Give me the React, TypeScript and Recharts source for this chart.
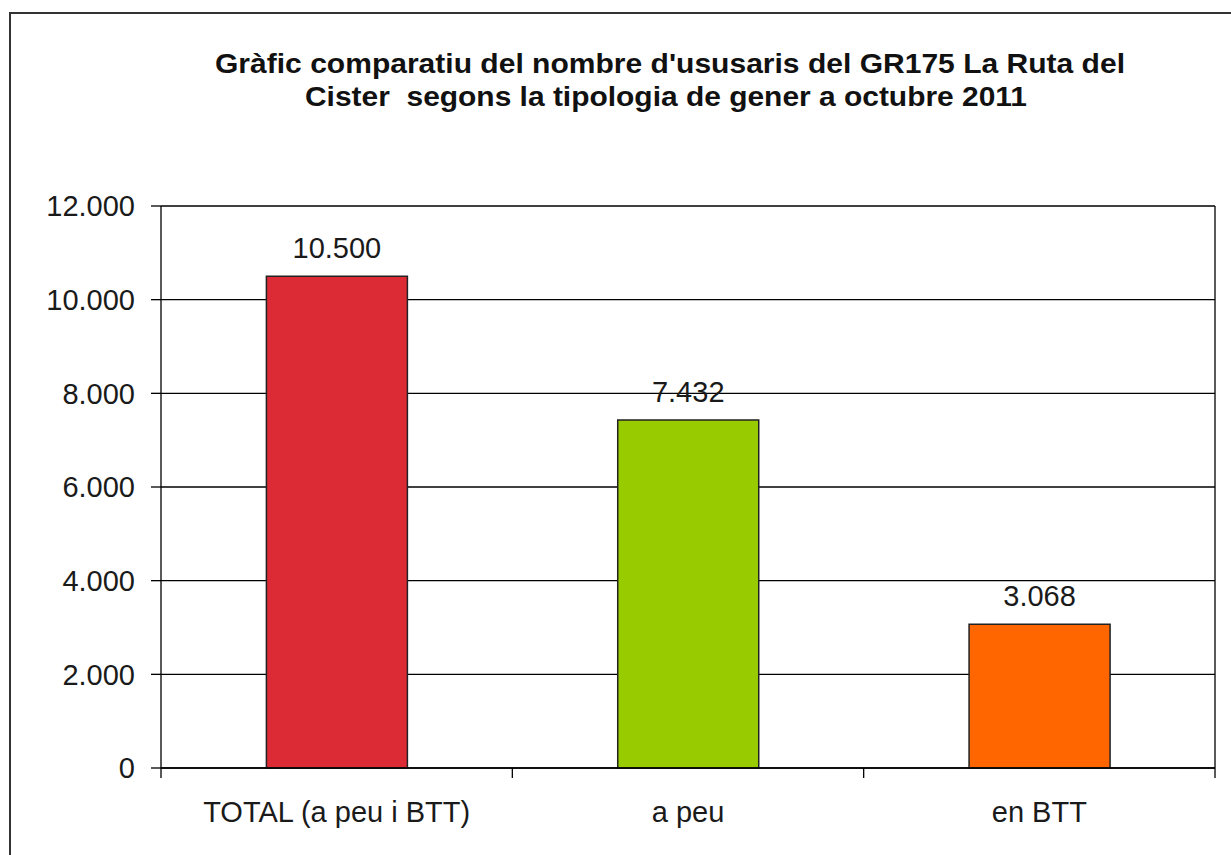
import React from 'react';
import { BarChart, Bar, XAxis, YAxis, CartesianGrid, LabelList, Cell } from 'recharts';

const categories = ['TOTAL (a peu i BTT)', 'a peu', 'en BTT'];
const users = [10500, 7432, 3068];
const barColors = ['#DD2B36', '#99CC00', '#FF6600'];
const yTicks = [0, 2000, 4000, 6000, 8000, 10000, 12000];
const titleLines = [
  "Gràfic comparatiu del nombre d'ususaris del GR175 La Ruta del",
  'Cister  segons la tipologia de gener a octubre 2011',
];

const data = categories.map((name, i) => ({ name, value: users[i] }));

const FONT = "'Liberation Sans', Arial, sans-serif";
const fmt = (v: number) => String(v).replace(/\B(?=(\d{3})+(?!\d))/g, '.');

const X_TICK_SIZE = 9;
const X_TICK_MARGIN = 24;

const XTick = (props: any) => {
  const { x, y, payload, index, visibleTicksCount, width } = props;
  const half =
    payload && typeof payload.offset === 'number' && payload.offset > 0
      ? payload.offset
      : width / visibleTicksCount / 2;
  const axisY = y - X_TICK_SIZE - X_TICK_MARGIN;
  return (
    <g>
      <line x1={x - half} x2={x - half} y1={axisY} y2={axisY + 10} stroke="#000" strokeWidth={1.3} />
      {index === visibleTicksCount - 1 && (
        <line x1={x + half} x2={x + half} y1={axisY} y2={axisY + 10} stroke="#000" strokeWidth={1.3} />
      )}
      <text x={x} y={y} dy="0.71em" textAnchor="middle" fill="#1a1a1a" fontSize={29} fontFamily={FONT}>
        {payload.value}
      </text>
    </g>
  );
};

const plotEdges = (props: any) => {
  const o = props && props.offset ? props.offset : { left: 161, width: 1054 };
  return [o.left + o.width];
};

export default function App() {
  return (
    <div
      style={{
        position: 'absolute',
        left: 0,
        top: 0,
        width: 1231,
        height: 855,
        background: '#fff',
        overflow: 'hidden',
      }}
    >
      <div
        style={{
          position: 'absolute',
          left: 9,
          top: 12,
          width: 1400,
          height: 1000,
          borderTop: '2px solid #333',
          borderLeft: '2px solid #333',
        }}
      />
      <div style={{ position: 'absolute', left: 0, top: 0 }}>
        <BarChart
          width={1231}
          height={855}
          data={data}
          margin={{ top: 206, right: 16, bottom: 27, left: 0 }}
          barCategoryGap="30%"
        >
          <CartesianGrid
            horizontal
            vertical
            verticalCoordinatesGenerator={plotEdges}
            stroke="#000"
            strokeWidth={1.3}
          />
          <XAxis
            dataKey="name"
            height={60}
            axisLine={{ stroke: '#000', strokeWidth: 1.3 }}
            tickLine={false}
            tickSize={X_TICK_SIZE}
            tickMargin={X_TICK_MARGIN}
            tick={<XTick />}
            interval={0}
          />
          <YAxis
            width={161}
            domain={[0, 12000]}
            ticks={yTicks}
            tickFormatter={fmt}
            axisLine={{ stroke: '#000', strokeWidth: 1.3 }}
            tickLine={{ stroke: '#000', strokeWidth: 1.3 }}
            tickSize={10}
            tickMargin={16}
            tick={{ fill: '#1a1a1a', fontSize: 29, fontFamily: FONT }}
            interval={0}
          />
          <Bar dataKey="value" isAnimationActive={false} stroke="#222" strokeWidth={1.5}>
            {data.map((d, i) => (
              <Cell key={d.name} fill={barColors[i]} />
            ))}
            <LabelList
              dataKey="value"
              position="top"
              offset={18}
              formatter={(v: any) => fmt(Number(v))}
              fill="#1a1a1a"
              fontSize={29}
              fontFamily={FONT}
            />
          </Bar>
        </BarChart>
      </div>
      <svg
        width={1231}
        height={130}
        style={{ position: 'absolute', left: 0, top: 0, pointerEvents: 'none' }}
      >
        <text
          x={215}
          y={73}
          textLength={910}
          lengthAdjust="spacingAndGlyphs"
          fontFamily={FONT}
          fontWeight="bold"
          fontSize={28}
          fill="#111"
        >
          {titleLines[0]}
        </text>
        <text
          x={305}
          y={106}
          textLength={722}
          lengthAdjust="spacingAndGlyphs"
          fontFamily={FONT}
          fontWeight="bold"
          fontSize={28}
          fill="#111"
          style={{ whiteSpace: 'pre' }}
        >
          {titleLines[1]}
        </text>
      </svg>
    </div>
  );
}
